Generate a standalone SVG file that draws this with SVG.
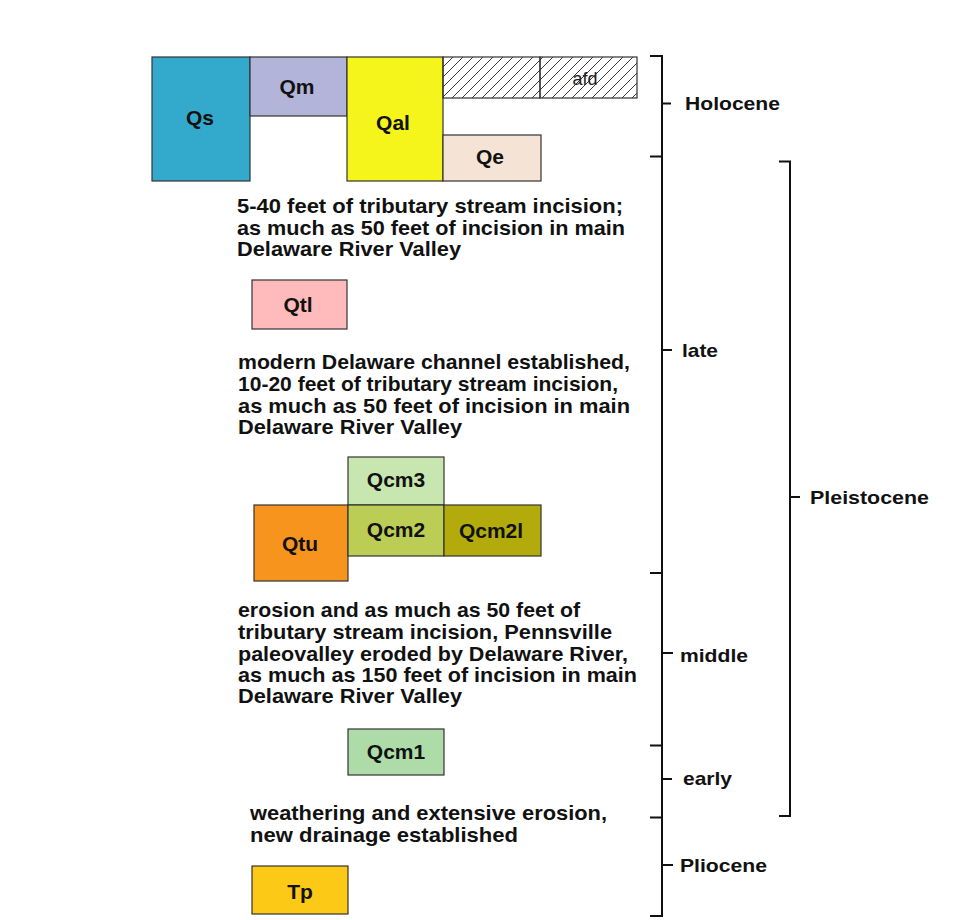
<svg xmlns="http://www.w3.org/2000/svg" width="973" height="920" viewBox="0 0 973 920">
<style>
.b{stroke:#333;stroke-width:1.2}
.t{font-family:"Liberation Sans",Arial,sans-serif;font-weight:bold;font-size:21px;fill:#111}
.l{font-family:"Liberation Sans",Arial,sans-serif;font-weight:bold;font-size:19px;fill:#111}
.c{text-anchor:middle}
.n{font-family:"Liberation Sans",Arial,sans-serif;font-size:18px;fill:#222;text-anchor:middle}
.k{stroke:#111;stroke-width:2;fill:none}
</style>
<defs>
<pattern id="h" patternUnits="userSpaceOnUse" width="10" height="10">
<path d="M-1,11 L11,-1 M-6,6 L6,-6 M4,16 L16,4" stroke="#222" stroke-width="0.9"/>
</pattern>
</defs>
<rect width="973" height="920" fill="#fff"/>
<g id="Qs"><rect class="b" x="152" y="57" width="98" height="124" fill="#33a9cc"/><text class="t c" x="200" y="125">Qs</text></g>
<g id="Qm"><rect class="b" x="250" y="57" width="97" height="59" fill="#b2b4d9"/><text class="t c" x="297" y="94">Qm</text></g>
<g id="Qal"><rect class="b" x="347" y="57" width="96" height="124" fill="#f5f51b"/><text class="t c" x="393" y="130">Qal</text></g>
<g id="afd"><rect class="b" x="443" y="57" width="97" height="41" fill="url(#h)"/><rect class="b" x="540" y="57" width="97" height="41" fill="url(#h)"/><text class="n" x="585" y="85">afd</text></g>
<g id="Qe"><rect class="b" x="443" y="135" width="98" height="46" fill="#f5e4d5"/><text class="t c" x="490" y="164">Qe</text></g>
<g id="Qtl"><rect class="b" x="252" y="280" width="95" height="49" fill="#ffbbbb"/><text class="t c" x="298" y="312">Qtl</text></g>
<g id="Qcm3"><rect class="b" x="348" y="457" width="96" height="48" fill="#c8e6b0"/><text class="t c" x="396" y="487">Qcm3</text></g>
<g id="Qtu"><rect class="b" x="254" y="505" width="94" height="76" fill="#f7941e"/><text class="t c" x="300" y="551">Qtu</text></g>
<g id="Qcm2"><rect class="b" x="348" y="505" width="96" height="51" fill="#bccd55"/><text class="t c" x="396" y="537">Qcm2</text></g>
<g id="Qcm2l"><rect class="b" x="444" y="505" width="97" height="51" fill="#b3ab0c"/><text class="t c" x="491" y="538">Qcm2l</text></g>
<g id="Qcm1"><rect class="b" x="348" y="729" width="96" height="46" fill="#aedca8"/><text class="t c" x="396" y="759">Qcm1</text></g>
<g id="Tp"><rect class="b" x="252" y="866" width="96" height="48" fill="#fcc916"/><text class="t c" x="300" y="899">Tp</text></g>
<g id="notes">
<text class="t" x="237" y="213" textLength="386" lengthAdjust="spacingAndGlyphs">5-40 feet of tributary stream incision;</text>
<text class="t" x="237" y="235" textLength="388" lengthAdjust="spacingAndGlyphs">as much as 50 feet of incision in main</text>
<text class="t" x="237" y="256" textLength="224" lengthAdjust="spacingAndGlyphs">Delaware River Valley</text>
<text class="t" x="238" y="369" textLength="392" lengthAdjust="spacingAndGlyphs">modern Delaware channel established,</text>
<text class="t" x="238" y="391" textLength="380" lengthAdjust="spacingAndGlyphs">10-20 feet of tributary stream incision,</text>
<text class="t" x="238" y="413" textLength="392" lengthAdjust="spacingAndGlyphs">as much as 50 feet of incision in main</text>
<text class="t" x="238" y="434" textLength="224" lengthAdjust="spacingAndGlyphs">Delaware River Valley</text>
<text class="t" x="238" y="617" textLength="342" lengthAdjust="spacingAndGlyphs">erosion and as much as 50 feet of</text>
<text class="t" x="238" y="639" textLength="374" lengthAdjust="spacingAndGlyphs">tributary stream incision, Pennsville</text>
<text class="t" x="238" y="661" textLength="390" lengthAdjust="spacingAndGlyphs">paleovalley eroded by Delaware River,</text>
<text class="t" x="238" y="682" textLength="399" lengthAdjust="spacingAndGlyphs">as much as 150 feet of incision in main</text>
<text class="t" x="238" y="703" textLength="224" lengthAdjust="spacingAndGlyphs">Delaware River Valley</text>
<text class="t" x="250" y="820" textLength="357" lengthAdjust="spacingAndGlyphs">weathering and extensive erosion,</text>
<text class="t" x="250" y="842" textLength="268" lengthAdjust="spacingAndGlyphs">new drainage established</text>
</g>
<g id="connectors">
<path class="k" d="M650,56 H662 V916 H650"/>
<path class="k" d="M650,156.5 H662 M650,573 H662 M650,745.5 H662 M650,817.5 H662"/>
<path class="k" d="M662,103.5 H671 M662,350 H672 M662,653 H673 M662,779 H672 M662,865 H673"/>
<path class="k" d="M779,161.5 H790 V816 H779 M790,497 H800"/>
</g>
<g id="labels">
<text class="l" x="685" y="110" textLength="95" lengthAdjust="spacingAndGlyphs">Holocene</text>
<text class="l" x="682" y="357" textLength="36" lengthAdjust="spacingAndGlyphs">late</text>
<text class="l" x="680" y="662" textLength="68" lengthAdjust="spacingAndGlyphs">middle</text>
<text class="l" x="683" y="785" textLength="49" lengthAdjust="spacingAndGlyphs">early</text>
<text class="l" x="680" y="872" textLength="87" lengthAdjust="spacingAndGlyphs">Pliocene</text>
<text class="l" x="810" y="504" textLength="119" lengthAdjust="spacingAndGlyphs">Pleistocene</text>
</g>
</svg>
